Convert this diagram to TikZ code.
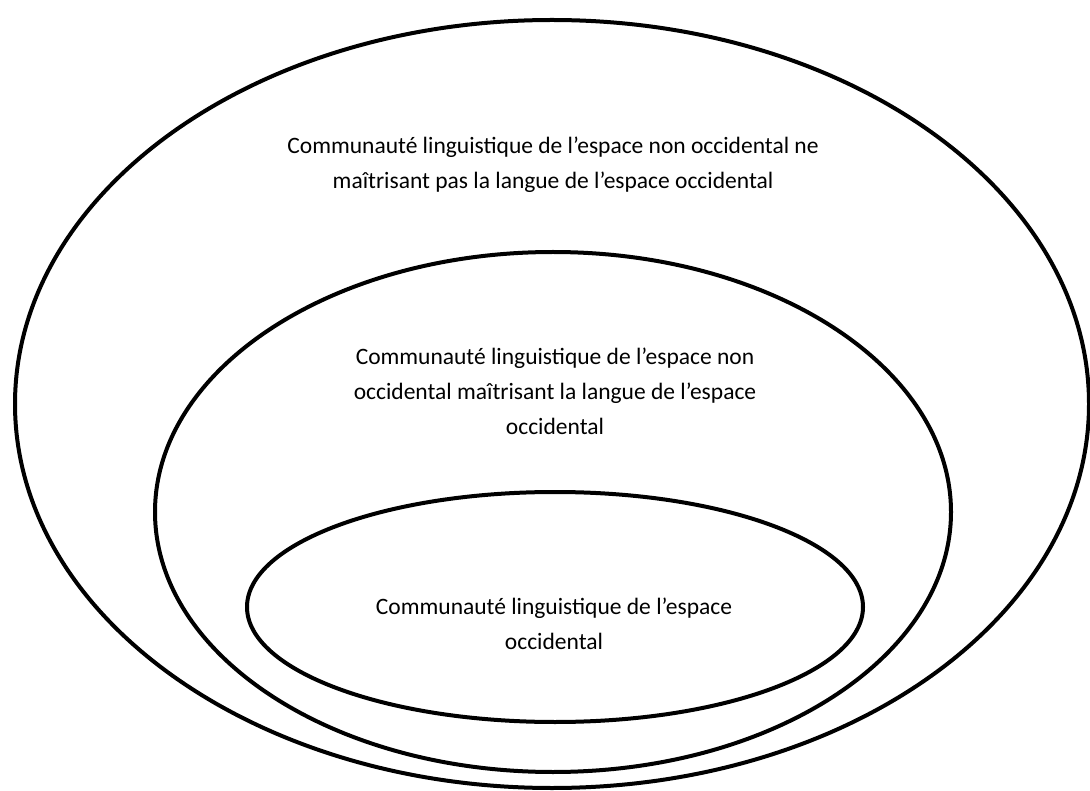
\documentclass[tikz,border=0pt]{standalone}
\usepackage{fontspec}
\setmainfont{Carlito}
\usetikzlibrary{shapes.geometric}
\begin{document}
\begin{tikzpicture}[x=1pt,y=-1pt,
  ring/.style={draw=black, line width=4pt, ellipse, inner sep=0pt, fill=none},
  label/.style={align=center, font=\fontsize{23.5}{35}\selectfont, inner sep=0pt}]
\useasboundingbox[fill=white] (0,0) rectangle (1090,791);
\node[ring, minimum width=1074pt, minimum height=768pt] (outer) at (552,404) {};
\node[ring, minimum width=796pt, minimum height=520pt] (middle) at (553,512) {};
\node[ring, minimum width=616pt, minimum height=230pt] (inner) at (555,607) {};
\node[label] (touter) at (553,165) {Communauté linguistique de l’espace non occidental ne\\maîtrisant pas la langue de l’espace occidental};
\node[label] (tmiddle) at (555,391) {Communauté linguistique de l’espace non\\occidental maîtrisant la langue de l’espace\\occidental};
\node[label] (tinner) at (554,624) {Communauté linguistique de l’espace\\occidental};
\end{tikzpicture}
\end{document}
